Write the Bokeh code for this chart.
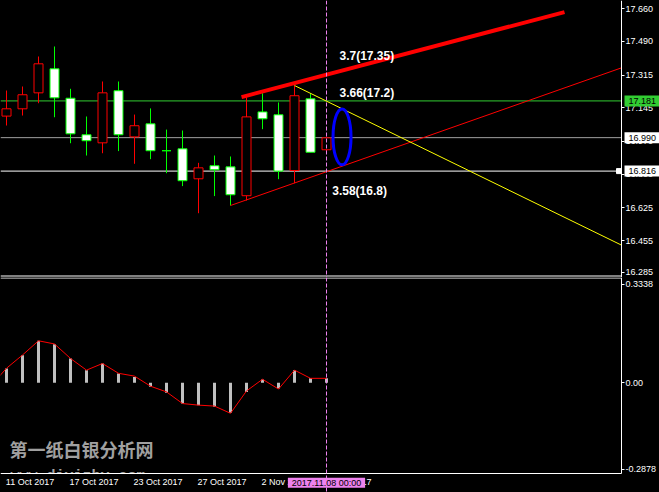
from bokeh.plotting import figure
from bokeh.layouts import column
from bokeh.models import (Range1d, FixedTicker, NumeralTickFormatter, Span, Label, LinearAxis,
                          GlobalInlineStyleSheet, ColumnDataSource, AllLabels, BoxAnnotation)
from bokeh.core.properties import value
from bokeh.embed import file_html
from bokeh.resources import INLINE

# ---------------- data ----------------
bars = list(range(1, 22))  # daily bars 11 Oct 2017 .. 8 Nov 2017
opens  = [17.102, 17.140, 17.223, 17.348, 17.195, 17.005, 16.963, 17.234, 16.994, 17.062, 16.922,
          16.932, 16.776, 16.844, 16.838, 16.688, 17.124, 17.109, 16.819, 17.192, 16.927]
highs  = [17.235, 17.256, 17.412, 17.464, 17.244, 17.100, 17.282, 17.282, 17.110, 17.142, 17.032,
          17.027, 16.859, 16.897, 16.892, 17.200, 17.221, 17.173, 17.261, 17.218, 16.995]
lows   = [17.053, 17.105, 17.169, 17.096, 16.961, 16.897, 16.909, 16.920, 16.854, 16.878, 16.805,
          16.738, 16.597, 16.686, 16.637, 16.663, 17.034, 16.774, 16.753, 16.914, 16.920]
closes = [17.140, 17.213, 17.374, 17.197, 17.010, 16.974, 17.223, 17.005, 17.052, 16.922, 16.922,
          16.766, 16.833, 16.823, 16.693, 17.098, 17.088, 16.816, 17.208, 16.914, 16.989]

osc_hist = [0.045, 0.087, 0.133, 0.122, 0.077, 0.040, 0.061, 0.029, 0.018, -0.013, -0.032,
            -0.066, -0.071, -0.076, -0.095, -0.029, 0.010, -0.018, 0.040, 0.014, 0.014]
signal_bars = list(range(0, 22))
osc_signal = [-0.011, 0.046, 0.088, 0.133, 0.123, 0.077, 0.040, 0.061, 0.030, 0.021, -0.011,
              -0.029, -0.066, -0.071, -0.074, -0.097, -0.026, 0.011, -0.020, 0.040, 0.014, 0.014]

date_ticks = [1, 5, 9, 13, 17, 21]
date_labels = ["11 Oct 2017", "17 Oct 2017", "23 Oct 2017", "27 Oct 2017", "2 Nov 2017",
               "8 Nov 2017"]
price_tick_pos = [17.660, 17.490, 17.315, 17.145, 16.970, 16.800, 16.625, 16.455, 16.290]
price_tick_labels = ["17.660", "17.490", "17.315", "17.145", "16.970", "16.800", "16.625",
                     "16.455", "16.285"]
osc_max, osc_min = 0.3338, -0.2878
osc_tick_pos = [0.3116, 0.0, -0.2751]
osc_tick_labels = ["0.3338", "0.00", "-0.2878"]

level_prices = [17.181, 16.990, 16.816]
level_labels = ["17.181", "16.990", "16.816"]

thick_x, thick_y = [15.69, 35.875], [17.201, 17.643]
lower_x, lower_y = [15.0, 39.4375], [16.637, 17.353]
yellow_x, yellow_y = [19.0, 39.4375], [17.261, 16.431]

ellipse_x, ellipse_y, ellipse_w, ellipse_h = 21.97, 16.994, 1.125, 0.291

note_texts = ["3.7(17.35)", "3.66(17.2)", "3.58(16.8)"]
note_x = [21.81, 21.81, 21.36]
note_y = [17.417, 17.220, 16.712]

cursor_bar = 21
cursor_label = "2017.11.08 00:00"

watermark_cn = "第一纸白银分析网"
watermark_url = "www.diyizby.com"

# ---------------- layout constants ----------------
FONT = "Liberation Sans"
PX_PER_BAR = 16.0
X_START, AXIS_X, X_END = 0.625, 39.4375, 41.8125   # frame left, price-axis position, canvas right
TOP_Y = (16.2627, 17.7032)     # top panel: 192.3 px per unit over 277 px
BOT_Y = (-0.3481, osc_max)     # bottom panel: 315.3 px per unit over 215 px
TOP_PX, BOT_PX = 192.3, 315.3

# approximate advance widths (em) of Liberation Sans, to left-align date labels at their bar
CHAR_EM = {" ": 0.278, "O": 0.778, "c": 0.5, "t": 0.278, "N": 0.722, "o": 0.556, "v": 0.5}


def label_center(bar, text, size=9.0):
    width = sum(CHAR_EM.get(ch, 0.556) for ch in text) * size
    return bar + (width / 2.0 - 1.0) / PX_PER_BAR


def style_axis(ax):
    ax.axis_line_color = "white"
    ax.major_tick_line_color = "white"
    ax.minor_tick_line_color = None
    ax.major_tick_in = 0
    ax.major_tick_out = 3
    ax.major_label_standoff = 1
    ax.major_label_text_color = "white"
    ax.major_label_text_font = FONT
    ax.major_label_text_font_size = "9px"


x_range = Range1d(X_START, X_END)
css = GlobalInlineStyleSheet(
    css="html, body { margin: 0 !important; padding: 0; background: #000; overflow: hidden; }")

# ---------------- top panel ----------------
p1 = figure(frame_width=659, frame_height=277, x_range=x_range,
            y_range=Range1d(*TOP_Y), output_backend="svg",
            toolbar_location=None, x_axis_location=None, y_axis_location=None,
            background_fill_color="black", border_fill_color="black",
            outline_line_color=None, min_border=0)
p1.grid.visible = False

ay1 = LinearAxis(fixed_location=AXIS_X, ticker=FixedTicker(ticks=price_tick_pos),
                 formatter=NumeralTickFormatter(format="0.000"))
style_axis(ay1)
ay1.major_label_overrides = {t: s for t, s in zip(price_tick_pos, price_tick_labels)}
p1.add_layout(ay1, "right")

bull = [c > o for o, c in zip(opens, closes)]
src = ColumnDataSource(dict(
    x=bars, o=opens, h=highs, l=lows, c=closes,
    top=[max(o, c) for o, c in zip(opens, closes)],
    bot=[min(o, c) for o, c in zip(opens, closes)],
    lc=["#ff0000" if b else "#00ff00" for b in bull],
    fc=["black" if b else "white" for b in bull],
))

# level lines (end at the price axis)
level_colors = ["#32cd32", "#a0a0a0", "white"]
p1.segment(x0=[X_START] * 3, x1=[AXIS_X] * 3, y0=level_prices, y1=level_prices,
           line_color=level_colors, line_width=1)

p1.segment(x0="x", y0="l", x1="x", y1="h", color="lc", line_width=1, source=src)
p1.vbar(x="x", width=0.5625, top="top", bottom="bot", fill_color="fc", line_color="lc",
        line_width=1, source=src)

# trend lines and marks
p1.line(lower_x, lower_y, line_color="#ff0000", line_width=1)
p1.line(yellow_x, yellow_y, line_color="#ffff00", line_width=1)
p1.line(thick_x, thick_y, line_color="#ff0000", line_width=4)
p1.ellipse(x=[ellipse_x], y=[ellipse_y], width=[ellipse_w], height=[ellipse_h],
           fill_color=None, line_color="#0000ff", line_width=3)

p1.text(x=note_x, y=note_y, text=note_texts, text_color="white",
        text_font=value(FONT), text_font_style="bold", text_font_size="12px",
        text_align="left", text_baseline="alphabetic")

# marker at end of the white level line
p1.scatter(x=[AXIS_X - 2.5 / PX_PER_BAR], y=[level_prices[2]], marker="square", size=5,
           color="white")

# bottom border line of the top panel
floor1 = TOP_Y[0] + 1.5 / TOP_PX
p1.segment(x0=[X_START], x1=[AXIS_X], y0=[floor1], y1=[floor1], line_color="white", line_width=1)
p1.add_layout(Span(location=cursor_bar, dimension="height", line_color="#ee82ee",
                   line_width=1, line_dash="4 2"))

# price tags on the scale (box annotations sit above the axis labels)
label_bg = ["#32cd32", "white", "white"]
half_tag = 5.5 / TOP_PX
for lv, txt, bg in zip(level_prices, level_labels, label_bg):
    p1.add_layout(BoxAnnotation(left=AXIS_X + 3 / PX_PER_BAR, right=X_END,
                                bottom=lv - half_tag, top=lv + half_tag,
                                fill_color=bg, fill_alpha=1.0, line_color=None))
    p1.add_layout(Label(x=AXIS_X + 7 / PX_PER_BAR, y=lv, text=txt, text_color="black",
                        text_font=FONT, text_font_size="9px", text_align="left",
                        text_baseline="middle"))

# ---------------- bottom panel ----------------
p2 = figure(frame_width=659, frame_height=215, x_range=x_range,
            y_range=Range1d(*BOT_Y), output_backend="svg",
            toolbar_location=None, x_axis_location=None, y_axis_location=None,
            background_fill_color="black", border_fill_color="black",
            outline_line_color=None, min_border=0)
p2.grid.visible = False

ay2 = LinearAxis(fixed_location=AXIS_X, ticker=FixedTicker(ticks=osc_tick_pos),
                 bounds=(osc_min, osc_max))
style_axis(ay2)
ay2.major_label_overrides = {t: s for t, s in zip(osc_tick_pos, osc_tick_labels)}
p2.add_layout(ay2, "right")

date_centers = [label_center(b, s) for b, s in zip(date_ticks, date_labels)]
ax2 = LinearAxis(fixed_location=osc_min, ticker=FixedTicker(ticks=date_centers),
                 bounds=(X_START, AXIS_X), major_label_policy=AllLabels())
style_axis(ax2)
ax2.major_tick_line_color = None
ax2.major_tick_out = 0
ax2.major_label_standoff = 4
ax2.major_label_overrides = {t: s for t, s in zip(date_centers, date_labels)}
p2.add_layout(ax2, "below")

p2.text(x=[1.19], y=[-0.2117], text=[watermark_cn], text_color="#a0a0a0",
        text_font=value("Noto Sans CJK SC"), text_font_style="bold", text_font_size="18px",
        text_align="left", text_baseline="middle")
p2.text(x=[1.25], y=[-0.2715], text=[watermark_url], text_color="#a0a0a0",
        text_font=value("Liberation Mono"), text_font_style="bold", text_font_size="15px",
        text_align="left", text_baseline="top")
# the time-scale strip hides whatever lies below the panel floor
p2.quad(left=[X_START], right=[X_END], bottom=[BOT_Y[0]], top=[osc_min],
        fill_color="black", line_color=None)

p2.vbar(x=bars, width=0.1875, top=osc_hist, bottom=0, fill_color="#c0c0c0", line_color=None)
p2.line(signal_bars, osc_signal, line_color="#ff0000", line_width=1)

ceil2 = osc_max - 0.5 / BOT_PX
p2.segment(x0=[X_START], x1=[AXIS_X], y0=[ceil2], y1=[ceil2], line_color="white", line_width=1)
p2.add_layout(Span(location=cursor_bar, dimension="height", line_color="#ee82ee",
                   line_width=1, line_dash="4 2"))

time_tag_y = -0.3173
p2.add_layout(BoxAnnotation(left=cursor_bar - 38.6 / PX_PER_BAR, right=cursor_bar + 38.6 / PX_PER_BAR,
                            bottom=time_tag_y - 5.0 / BOT_PX, top=time_tag_y + 5.0 / BOT_PX,
                            fill_color="#ee82ee", fill_alpha=1.0, line_color=None))
p2.add_layout(Label(x=cursor_bar, y=time_tag_y, text=cursor_label, text_color="black",
                    text_font=FONT, text_font_size="9px", text_align="center",
                    text_baseline="middle"))

layout = column(p1, p2, spacing=0, stylesheets=[css])

open("out.html", "w").write(file_html(layout, INLINE))
